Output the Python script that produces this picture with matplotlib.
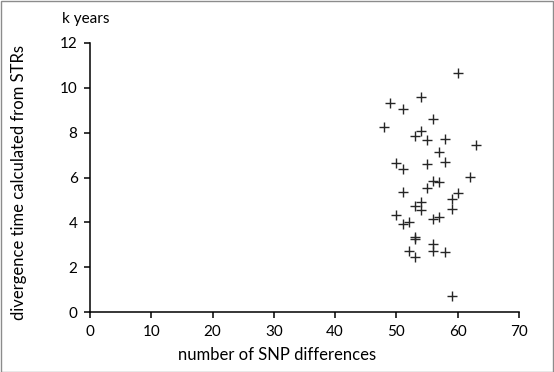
import matplotlib
matplotlib.use("Agg")
import matplotlib.pyplot as plt
from matplotlib.patches import Rectangle

# SNP differences vs divergence time (k years)
snp_diffs = [60, 54, 49, 51, 56, 48, 54, 53, 55, 58,
             63, 57, 58, 50, 51, 55, 62, 56, 57, 55,
             51, 60, 59, 54, 53, 54, 59, 50, 57, 56,
             51, 52, 53, 53, 56, 56, 52, 58, 53, 59]
div_time = [10.68, 9.57, 9.32, 9.06, 8.60, 8.26, 8.08, 7.84, 7.68, 7.72,
            7.46, 7.13, 6.71, 6.65, 6.40, 6.59, 6.04, 5.85, 5.79, 5.52,
            5.37, 5.30, 5.04, 4.92, 4.73, 4.55, 4.60, 4.32, 4.25, 4.14,
            3.93, 4.03, 3.35, 3.25, 3.04, 2.72, 2.72, 2.66, 2.44, 0.71]
x_ticks = [0, 10, 20, 30, 40, 50, 60, 70]
y_ticks = [0, 2, 4, 6, 8, 10, 12]

plt.rcParams['font.family'] = ['Lato', 'DejaVu Sans']

W, H = 554, 372
fig = plt.figure(figsize=(W / 100, H / 100), dpi=100)
ax = fig.add_axes([90 / W, 1 - 312 / H, (519 - 90) / W, (312 - 43) / H])

ax.scatter(snp_diffs, div_time, marker='+', s=55, color='#262626', linewidths=1.0, zorder=3)

ax.set_xlim(0, 70)
ax.set_ylim(0, 12)
ax.set_xticks(x_ticks)
ax.set_yticks(y_ticks)
for s in ['top', 'right']:
    ax.spines[s].set_visible(False)
for s in ['left', 'bottom']:
    ax.spines[s].set_color('black')
    ax.spines[s].set_linewidth(1.1)
ax.tick_params(direction='out', length=4, width=1.1, labelsize=11, colors='black', pad=5)

# axis titles
fig.text(277 / W, 1 - 355 / H, 'number of SNP differences', ha='center', va='center', fontsize=12)
fig.text(19 / W, 1 - 183 / H, 'divergence time calculated from STRs', ha='center', va='center',
         rotation=90, fontsize=12)
fig.text(62 / W, 1 - 19 / H, 'k years', ha='left', va='center', fontsize=11)

# chart border
fig.patches.append(Rectangle((0.5 / W, 0.5 / H), 1 - 1.5 / W, 1 - 1.5 / H, transform=fig.transFigure,
                             fill=False, edgecolor='#8c8c8c', linewidth=1))

fig.savefig('out.png', dpi=100)
